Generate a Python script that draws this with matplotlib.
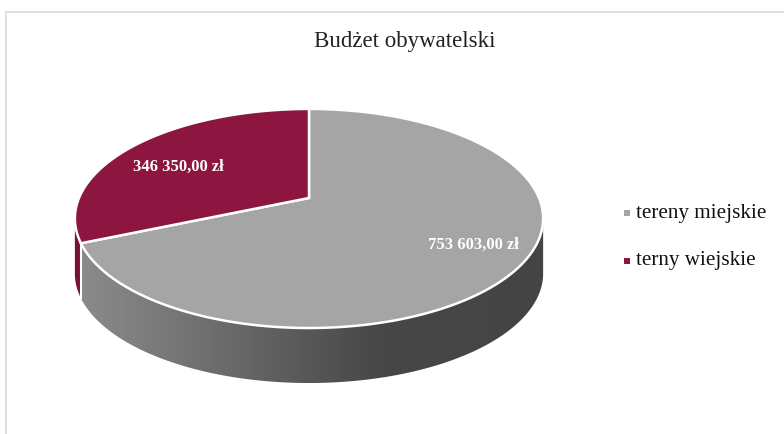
import numpy as np
import matplotlib
matplotlib.use('Agg')
import matplotlib.pyplot as plt
from matplotlib.patches import Polygon, Rectangle
from matplotlib.colors import LinearSegmentedColormap
from matplotlib.transforms import Transform, IdentityTransform
from matplotlib.path import Path

title = 'Budżet obywatelski'
categories = ['tereny miejskie', 'terny wiejskie']
values = [753603.00, 346350.00]
value_labels = ['753 603,00 zł', '346 350,00 zł']
top_colors = ['#a5a5a5', '#8c1640']
side_colors = [['#8e8e8e', '#474747', '#444444'], ['#7a1236', '#6a0f2f', '#6a0f2f']]

plt.rcParams['font.family'] = ['Liberation Serif', 'DejaVu Serif']

W, H = 784, 434
fig = plt.figure(figsize=(W / 100, H / 100), dpi=100)

# chart frame (only top and left edge visible in the crop)
fig.patches.append(Rectangle((6 / W, -0.1), 1.2, (H - 12) / H + 0.1,
                             transform=fig.transFigure, fill=False,
                             edgecolor='#d9d9d9', linewidth=1.2))

persp = 0.187   # strength of the perspective (far side smaller)


class Tilt(Transform):
    """Project the flat pie onto a disc seen from above at an angle."""
    input_dims = 2
    output_dims = 2
    is_separable = False
    has_inverse = False

    def transform_non_affine(self, values):
        v = np.asarray(values, dtype=float)
        w = 1 + persp * v[:, 1]
        return np.column_stack([v[:, 0] / w, v[:, 1] / w])

    def transform_path_non_affine(self, path):
        pts = [bez(np.linspace(0, 1, 24)) for bez, code in path.iter_bezier()]
        tv = self.transform_non_affine(np.concatenate(pts))
        return Path(np.vstack([tv, tv[:1]]), closed=True)


cx, apex_y, a, b = 309, 198, 230, 105.7   # px
depth_px = 55
x0, x1 = -1.3, 1.3
y0, y1 = -2.0, 1.4
ax = fig.add_axes([(cx + x0 * a) / W, (H - apex_y + y0 * b) / H,
                   (x1 - x0) * a / W, (y1 - y0) * b / H])

wedges, _ = ax.pie(values, startangle=90, counterclock=False,
                   colors=top_colors,
                   wedgeprops=dict(edgecolor='white', linewidth=1.8))
tilt = Tilt()
for w in wedges:
    w.set_transform(tilt + ax.transData)
    w.set_zorder(5)
ax.set_aspect('auto')
ax.set_xlim(x0, x1)
ax.set_ylim(y0, y1)
ax.axis('off')

# side walls, built from the wedge angles; visible between the silhouette points
sil = np.degrees(np.arcsin(persp))
to_px = tilt + ax.transData
for w, cols in zip(wedges, side_colors):
    t1, t2 = w.theta1 % 360, w.theta2 % 360
    if t2 <= t1:
        t2 += 360
    lo, hi = max(t1, 180 + sil), min(t2, 360 - sil)
    if hi <= lo:
        continue
    t = np.radians(np.linspace(lo, hi, 300))
    top = to_px.transform(np.column_stack([np.cos(t), np.sin(t)]))
    bot = top[::-1] - [0, depth_px]
    poly = Polygon(np.concatenate([top, bot]), closed=True, facecolor='none',
                   edgecolor='none', transform=IdentityTransform())
    ax.add_patch(poly)
    cmap = LinearSegmentedColormap.from_list('side', list(zip([0, 0.65, 1], cols)))
    grad = np.linspace(0, 1, 256).reshape(1, -1)
    im = ax.imshow(grad, cmap=cmap, extent=[-1.05, 1.05, -2.0, 0.3],
                   aspect='auto', zorder=2, interpolation='bilinear')
    im.set_clip_path(poly)
    # white seam where two slices meet on the wall
    if lo > 180 + sil:
        ax.plot([top[0, 0], top[0, 0]], [top[0, 1], top[0, 1] - depth_px],
                color='white', linewidth=1.5, zorder=3,
                transform=IdentityTransform())

ax.set_xlim(x0, x1)
ax.set_ylim(y0, y1)

# value labels
label_pos = [(473, 245), (178, 167)]
for (px, py), txt in zip(label_pos, value_labels):
    fig.text(px / W, 1 - py / H, txt, ha='center', va='center',
             color='white', fontsize=12, fontweight='bold')

fig.text(404.5 / W, 1 - 42 / H, title, ha='center', va='center',
         fontsize=16.5, color='#222222')

# legend
leg_y = [213, 261]
for yy, name, col in zip(leg_y, categories, top_colors):
    fig.patches.append(Rectangle((624 / W, 1 - (yy + 3) / H), 6 / W, 6 / H,
                                 transform=fig.transFigure, facecolor=col,
                                 edgecolor='none'))
    fig.text(636 / W, 1 - yy / H, name, ha='left', va='center',
             fontsize=15.2, color='#111111')

fig.savefig('out.png', dpi=100)
